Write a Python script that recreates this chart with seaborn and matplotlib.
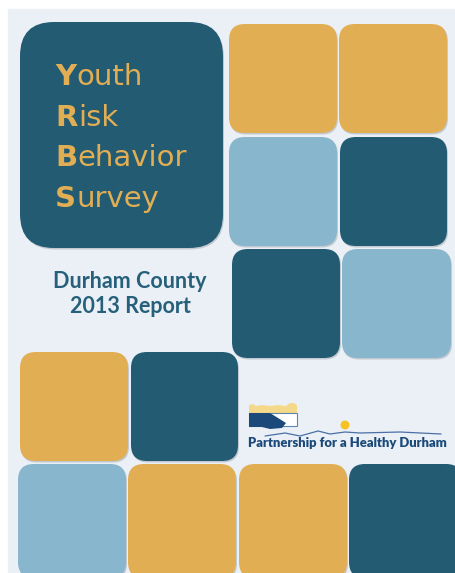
import matplotlib
matplotlib.use("Agg")
import matplotlib.pyplot as plt
import seaborn as sns
from matplotlib.patches import FancyBboxPatch, Rectangle, Circle, Polygon

sns.set_theme(style="white")
plt.rcParams['font.family'] = ['Lato', 'DejaVu Sans']

# palette of the cover
DARK = '#235b73'
GOLD = '#e2ae54'
LIGHT = '#88b6cc'
PANEL = '#ebf0f6'

# tiles: left, top, right, bottom (pixels) and colour
tile_boxes = [
    (229, 24, 337, 133), (339, 24, 447, 133),
    (229, 137, 337, 246), (340, 137, 447, 246),
    (232, 249, 340, 358), (342, 249, 451, 358),
    (20, 352, 128, 461), (131, 352, 238, 461),
    (18, 464, 126, 578), (128, 464, 236, 578),
    (239, 464, 347, 578), (349, 464, 462, 578),
]
tile_colors = [GOLD, GOLD, LIGHT, DARK, DARK, LIGHT,
               GOLD, DARK, LIGHT, GOLD, GOLD, DARK]

title_initials = ['Y', 'R', 'B', 'S']
title_rests = ['outh', 'isk', 'ehavior', 'urvey']
subtitle = ['Durham County', '2013 Report']
logo_text = 'Partnership for a Healthy Durham'

W, H = 456, 573
fig = plt.figure(figsize=(W / 100, H / 100), dpi=100)
ax = fig.add_axes([0, 0, 1, 1])
ax.set_xlim(0, W)
ax.set_ylim(H, 0)
ax.axis('off')
fig.patch.set_facecolor('white')

ax.add_patch(Rectangle((8, 9), W, H, color=PANEL, zorder=0))


def tile(x0, y0, x1, y1, color, r=16):
    # faint shadow then the tile
    ax.add_patch(FancyBboxPatch((x0 + 1, y0 + 1.5), x1 - x0, y1 - y0,
                                boxstyle='round,pad=0,rounding_size=%d' % r,
                                fc='#9aa3ab', ec='none', alpha=0.5, zorder=1))
    ax.add_patch(FancyBboxPatch((x0, y0), x1 - x0, y1 - y0,
                                boxstyle='round,pad=0,rounding_size=%d' % r,
                                fc=color, ec='none', zorder=2))


tile(20, 22, 223, 248, DARK, r=34)
for (x0, y0, x1, y1), c in zip(tile_boxes, tile_colors):
    tile(x0, y0, x1, y1, c)

# title in the big tile
fig.canvas.draw()
renderer = fig.canvas.get_renderer()
for i, (a, b) in enumerate(zip(title_initials, title_rests)):
    y = 85 + i * 40.7
    t = ax.text(55, y, a, color=GOLD, fontsize=21, fontweight='bold',
                family=['DejaVu Sans'], va='baseline', ha='left', zorder=3)
    bb = t.get_window_extent(renderer)
    xr = ax.transData.inverted().transform((bb.x1, bb.y0))[0]
    ax.text(xr + 0.5, y, b, color=GOLD, fontsize=21, fontweight='normal',
            family=['DejaVu Sans'], va='baseline', ha='left', zorder=3)

for i, s in enumerate(subtitle):
    ax.text(130, 288 + i * 25, s, color='#26607a', fontsize=15.5, fontweight='bold',
            va='baseline', ha='center', zorder=3)

# logo
NAVY = '#1b4a7a'
ax.add_patch(Polygon([(249, 414), (249, 405), (253, 404), (256, 406), (262, 405),
                      (270, 406), (278, 405), (286, 406), (290, 403), (294, 403),
                      (297, 405), (297, 414)],
                     closed=True, fc='#f5d98a', ec='none', zorder=3))
ax.add_patch(Rectangle((249, 413), 48, 13, fc='white', ec='#5a86b0', lw=0.8, zorder=3))
ax.add_patch(Polygon([(249, 413), (270, 413), (286, 423), (282, 428),
                      (270, 429), (262, 427), (249, 427)],
                     closed=True, fc=NAVY, ec='none', zorder=4))
ax.add_patch(Circle((345, 425), 4.5, fc='#f6c325', ec='none', zorder=3))
ax.plot([265, 285, 300, 318, 330, 345, 360, 400, 441],
        [436, 433, 436, 431, 434, 432, 433, 432, 434],
        color='#4a6fa5', lw=0.9, zorder=3)
ax.text(248, 447, logo_text, color=NAVY, fontsize=9.4, fontweight='heavy',
        va='baseline', ha='left', zorder=3)

fig.savefig('out.png', dpi=100)
